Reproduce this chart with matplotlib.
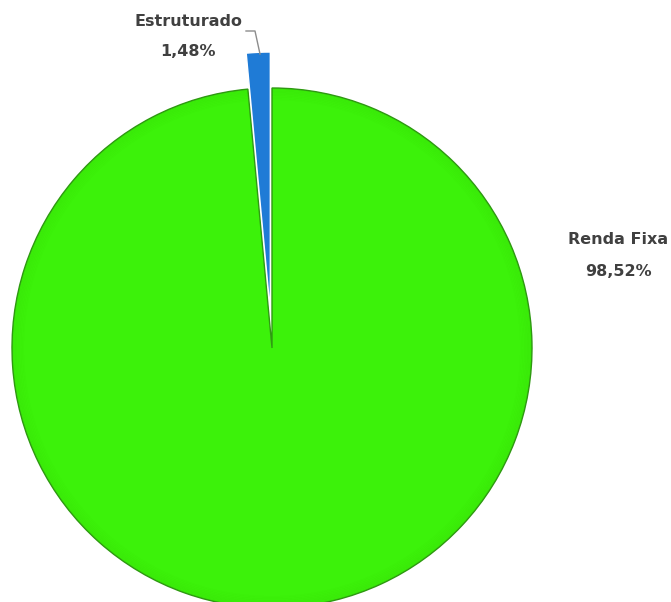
import matplotlib.pyplot as plt
from matplotlib.patches import Wedge

labels = ["Estruturado", "Renda Fixa"]
values = [1.48, 98.52]
pct_text = ["1,48%", "98,52%"]
colors = ["#1f7bd6", "#3cf20a"]

W, H = 671, 602
fig = plt.figure(figsize=(W / 100, H / 100), dpi=100)
ax = fig.add_axes([0, 0, 1, 1])

cx, cy, r = 272, H - 348, 260
# matplotlib's explode is in data units, not radius fractions
explode = [36, 0]

wedges, _ = ax.pie(values, colors=colors, explode=explode, startangle=90,
                   counterclock=True, center=(cx, cy), radius=r,
                   wedgeprops=dict(edgecolor="white", linewidth=1.0),
                   frame=True)
wedges[1].set_edgecolor("#2f9a12")
wedges[1].set_linewidth(1.0)

# soft darker rim for a bit of depth
for k in range(8):
    ax.add_patch(Wedge((cx, cy), r - k * 1.5, 95.3, 450, width=1.6,
                       facecolor="#1a6a05", alpha=0.05 * (8 - k) / 8, lw=0))

ax.set_xlim(0, W)
ax.set_ylim(0, H)
ax.set_aspect("equal")
ax.axis("off")

font = ["DejaVu Sans"]
tcol = "#404040"

ax.text(188, H - 22, labels[0], ha="center", va="center", fontsize=11.5,
        fontweight="bold", color=tcol, family=font)
ax.text(188, H - 51, pct_text[0], ha="center", va="center", fontsize=11.5,
        fontweight="bold", color=tcol, family=font)
ax.plot([246, 255, 260], [H - 31, H - 31, H - 54], color="#8c8c8c", lw=1)

ax.text(618, H - 240, labels[1], ha="center", va="center", fontsize=11.5,
        fontweight="bold", color=tcol, family=font)
ax.text(618, H - 271, pct_text[1], ha="center", va="center", fontsize=11.5,
        fontweight="bold", color=tcol, family=font)

fig.savefig("out.png", dpi=100)
